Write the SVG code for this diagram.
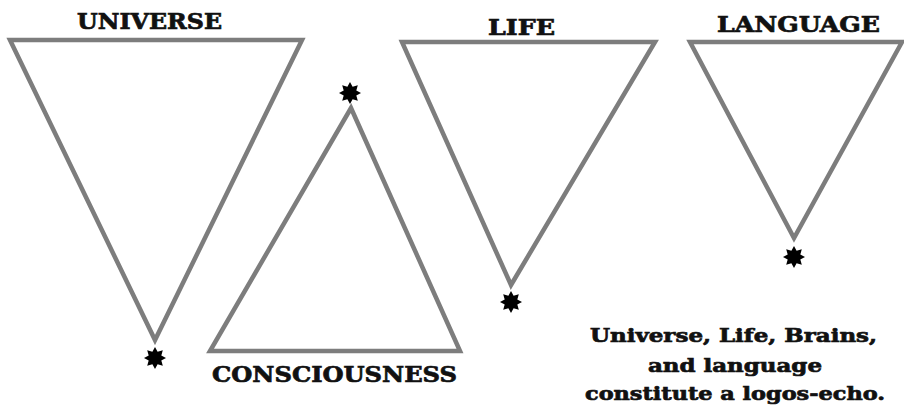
<svg xmlns="http://www.w3.org/2000/svg" xmlns:xlink="http://www.w3.org/1999/xlink" width="904" height="410" viewBox="0 0 904 410">
<style>
.tri{fill:none;stroke:#7d7d7d;stroke-width:4.5;stroke-linejoin:miter}
.lbl{font-family:"DejaVu Serif","Liberation Serif",serif;font-weight:bold;fill:#111;stroke:#111;stroke-width:0.7;text-anchor:start}
.cap{font-size:22px}
.note{font-size:19px}
</style>
<defs>
<polygon id="star" fill="#000" points="0,-11 2.6,-6.3 7.8,-7.8 6.3,-2.6 11,0 6.3,2.6 7.8,7.8 2.6,6.3 0,11 -2.6,6.3 -7.8,7.8 -6.3,2.6 -11,0 -6.3,-2.6 -7.8,-7.8 -2.6,-6.3"/>
</defs>
<rect width="904" height="410" fill="#fff"/>
<g id="universe">
<polygon class="tri" points="10,40 302,40 155,340"/>
<use xlink:href="#star" x="155" y="358"/>
<text class="lbl cap" x="77" y="29" textLength="145" lengthAdjust="spacingAndGlyphs">UNIVERSE</text>
</g>
<g id="consciousness">
<polygon class="tri" points="351,108 460,351 210,351"/>
<use xlink:href="#star" x="350" y="93"/>
<text class="lbl cap" x="212" y="382" textLength="245" lengthAdjust="spacingAndGlyphs">CONSCIOUSNESS</text>
</g>
<g id="life">
<polygon class="tri" points="402,42 655,42 511,285"/>
<use xlink:href="#star" x="511" y="302"/>
<text class="lbl cap" x="488" y="35" textLength="67" lengthAdjust="spacingAndGlyphs">LIFE</text>
</g>
<g id="language">
<polygon class="tri" points="690,42 902,42 794,238"/>
<use xlink:href="#star" x="794" y="257"/>
<text class="lbl cap" x="717" y="32" textLength="163" lengthAdjust="spacingAndGlyphs">LANGUAGE</text>
</g>
<g id="caption">
<text class="lbl note" x="590" y="342" textLength="287" lengthAdjust="spacingAndGlyphs">Universe, Life, Brains,</text>
<text class="lbl note" x="648" y="372" textLength="174" lengthAdjust="spacingAndGlyphs">and language</text>
<text class="lbl note" x="585" y="400" textLength="300" lengthAdjust="spacingAndGlyphs">constitute a logos-echo.</text>
</g>
<g id="connectors"></g>
</svg>
